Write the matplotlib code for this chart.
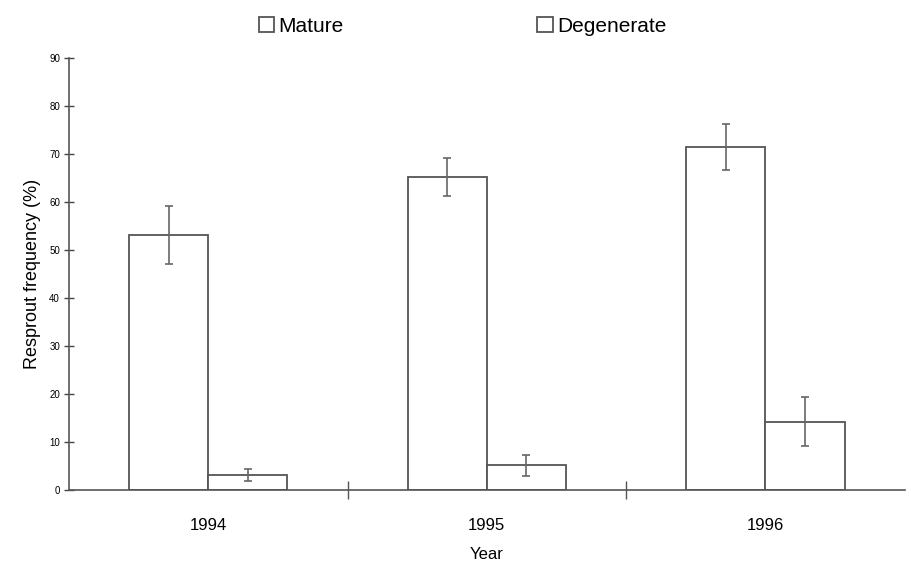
import matplotlib.pyplot as plt
import numpy as np

plt.rcParams["font.family"] = ["Liberation Sans", "DejaVu Sans"]

# data
years = ["1994", "1995", "1996"]
mature = [53.2, 65.2, 71.4]
mature_err = [6.0, 3.9, 4.8]
degenerate = [3.1, 5.2, 14.2]
degenerate_err = [1.2, 2.2, 5.1]

x = np.arange(len(years))
bar_width = 0.284
edge = "#555555"

fig = plt.figure(figsize=(9.12, 5.65), dpi=100)
ax = fig.add_axes([0.0757, 0.1327, 0.9163, 0.7643])

err_kw = dict(ecolor="#666666", elinewidth=1.2, capsize=3, capthick=1.2)
b1 = ax.bar(x - bar_width / 2, mature, bar_width, yerr=mature_err,
            color="white", edgecolor=edge, linewidth=1.3, error_kw=err_kw,
            label="Mature")
b2 = ax.bar(x + bar_width / 2, degenerate, bar_width, yerr=degenerate_err,
            color="white", edgecolor=edge, linewidth=1.3, error_kw=err_kw,
            label="Degenerate")

ax.set_xlim(-0.5, 2.5)
ax.set_ylim(0, 90)
ax.set_yticks(np.arange(0, 91, 10))
ax.tick_params(axis="y", labelsize=7, direction="inout", length=7,
               width=1, color="#444444", pad=3)

# group separators as major ticks, year labels on minor ticks
ax.set_xticks([0.5, 1.5])
ax.set_xticklabels([])
ax.set_xticks(x, minor=True)
ax.set_xticklabels(years, minor=True, fontsize=12)
ax.tick_params(axis="x", which="major", direction="inout", length=13,
               width=1, color="#555555")
ax.tick_params(axis="x", which="minor", length=0, pad=20)

for side in ["top", "right"]:
    ax.spines[side].set_visible(False)
for side in ["left", "bottom"]:
    ax.spines[side].set_color("#555555")
    ax.spines[side].set_linewidth(1.2)

ax.set_xlabel("Year", fontsize=12, labelpad=10)
ax.set_ylabel("Resprout frequency (%)", fontsize=13, labelpad=6)

fig.legend(handles=[b1, b2], loc="upper left", bbox_to_anchor=(0.263, 1.003),
           ncol=2, frameon=False, fontsize=15, handlelength=0.75,
           handleheight=0.75, handletextpad=0.2, columnspacing=9.3)

plt.savefig("out.png", dpi=100)
